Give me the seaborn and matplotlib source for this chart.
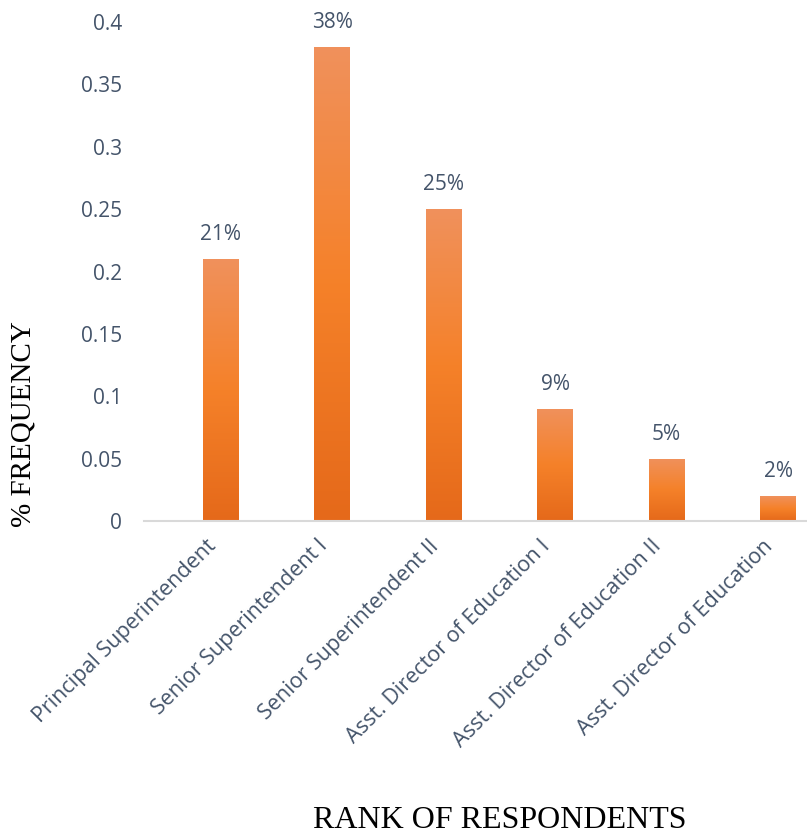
import matplotlib
matplotlib.use("Agg")
import matplotlib.pyplot as plt
import matplotlib.transforms as mtrans
import seaborn as sns
import numpy as np
import pandas as pd
from matplotlib.colors import LinearSegmentedColormap

categories = ["Principal Superintendent", "Senior Superintendent I", "Senior Superintendent II",
              "Asst. Director of Education I", "Asst. Director of Education II", "Asst. Director of Education"]
values = [0.21, 0.38, 0.25, 0.09, 0.05, 0.02]
labels = ["21%", "38%", "25%", "9%", "5%", "2%"]
yticks = [0, 0.05, 0.1, 0.15, 0.2, 0.25, 0.3, 0.35, 0.4]
ytick_labels = ["0", "0.05", "0.1", "0.15", "0.2", "0.25", "0.3", "0.35", "0.4"]

sns.set_style("white")
plt.rcParams['font.family'] = ['Open Sans', 'DejaVu Sans']

W, H = 807, 836
fig = plt.figure(figsize=(W / 100, H / 100), dpi=100)
ax = fig.add_axes([144 / W, 1 - 521 / H, (W - 144) / W, (521 - 22) / H])

df = pd.DataFrame({"cat": categories, "val": values})
sns.barplot(data=df, x="cat", y="val", ax=ax, color="#F58025", width=0.32, saturation=1)

# gradient fill
cmap = LinearSegmentedColormap.from_list("g", ["#E5691A", "#F58129", "#F0915C"])
grad = np.linspace(0, 1, 256).reshape(-1, 1)
for p in ax.patches:
    x0, y0 = p.get_x(), p.get_y()
    w, h = p.get_width(), p.get_height()
    im = ax.imshow(grad, cmap=cmap, extent=[x0, x0 + w, y0, y0 + h], origin="lower",
                   aspect="auto", zorder=p.get_zorder() + 0.1, interpolation="bilinear")
    im.set_clip_path(p)
ax.set_xlim(-0.69, 5.26)
ax.set_ylim(0, 0.4)

txtcol = "#44546A"
for i, (v, lab) in enumerate(zip(values, labels)):
    ax.annotate(lab, (i, v), xytext=(0, 14), textcoords="offset pixels",
                ha="center", va="bottom", fontsize=15, color=txtcol, clip_on=False)

ax.set_yticks(yticks)
ax.set_yticklabels(ytick_labels, fontsize=15, color=txtcol)
ax.set_xticks(range(len(categories)))
ax.set_xticklabels(categories, rotation=45, ha="right", va="center", rotation_mode="anchor",
                   fontsize=15.5, color=txtcol)
ax.tick_params(axis="y", length=0, pad=16)
ax.tick_params(axis="x", length=0, pad=16)
offset = mtrans.ScaledTranslation(-8 / 100, 0, fig.dpi_scale_trans)
for t in ax.get_xticklabels():
    t.set_transform(t.get_transform() + offset)

for s in ["top", "right", "left"]:
    ax.spines[s].set_visible(False)
ax.spines["bottom"].set_color("#D9D9D9")
ax.spines["bottom"].set_linewidth(1.5)

ax.set_xlabel("")
ax.set_ylabel("")
fig.text(500 / W, 1 - 821 / H, "RANK OF RESPONDENTS", ha="center", va="center",
         fontsize=23, family="Liberation Serif", color="black")
fig.text(24 / W, 1 - 424 / H, "% FREQUENCY", ha="center", va="center", rotation=90,
         fontsize=21, family="Liberation Serif", color="black")

fig.savefig("out.png", dpi=100)
